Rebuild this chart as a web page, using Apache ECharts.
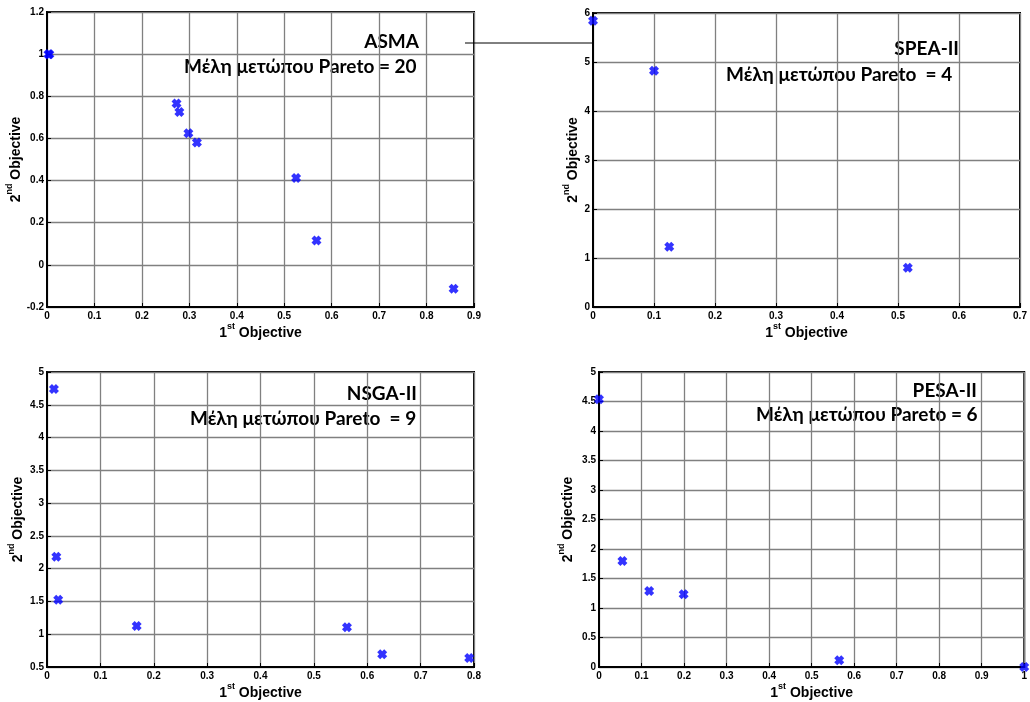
<!DOCTYPE html>
<html>
<head>
<meta charset="utf-8">
<script src="https://cdn.jsdelivr.net/npm/echarts@6/dist/echarts.min.js"></script>
<style>html,body{margin:0;padding:0;background:#fff;}#c{width:1030px;height:702px;}</style>
</head>
<body>
<div id="c"></div>
<script>
// ---- data ----
const asmaX = [0.003, 0.005, 0.273, 0.279, 0.298, 0.316, 0.525, 0.568, 0.857];
const asmaY = [1.0, 1.0, 0.766, 0.726, 0.624, 0.581, 0.412, 0.116, -0.113];
const speaX = [0.0, 0.1, 0.125, 0.516];
const speaY = [5.84, 4.82, 1.23, 0.80];
const nsgaX = [0.013, 0.0175, 0.021, 0.168, 0.562, 0.628, 0.791];
const nsgaY = [4.74, 2.18, 1.524, 1.126, 1.106, 0.693, 0.637];
const pesaX = [0.0, 0.055, 0.118, 0.199, 0.565, 1.0];
const pesaY = [4.54, 1.795, 1.29, 1.234, 0.113, 0.0];

const panelNames = ['ASMA', 'SPEA-II', 'NSGA-II', 'PESA-II'];
const paretoTexts = ['Μέλη μετώπου Pareto = 20', 'Μέλη μετώπου Pareto  = 4', 'Μέλη μετώπου Pareto  = 9', 'Μέλη μετώπου Pareto = 6'];
const xLabel = '{a|1}{s|st}{a| Objective}';
const yLabel = '{a|2}{s|nd}{a| Objective}';

const xRanges = [[0, 0.9, 0.1], [0, 0.7, 0.1], [0, 0.8, 0.1], [0, 1, 0.1]];
const yRanges = [[-0.2, 1.2, 0.2], [0, 6, 1], [0.5, 5, 0.5], [0, 5, 0.5]];

const grids = [
  {left: 47, top: 12, width: 427, height: 295},
  {left: 593, top: 13, width: 427, height: 294},
  {left: 47, top: 372, width: 427, height: 295},
  {left: 599, top: 372, width: 426, height: 295}
];
const yNameGaps = [22, 13, 22, 24];

const xs = [asmaX, speaX, nsgaX, pesaX];
const ys = [asmaY, speaY, nsgaY, pesaY];

const xMark = 'path://M0,3 L3,0 L5,2 L7,0 L10,3 L8,5 L10,7 L7,10 L5,8 L3,10 L0,7 L2,5 Z';
const labelFont = '"Liberation Sans", Arial, sans-serif';
const noteFont = 'bold 19px Lato, sans-serif';
const richName = {
  a: {fontSize: 14, fontWeight: 'bold', fontFamily: labelFont, color: '#000', lineHeight: 18, verticalAlign: 'bottom'},
  s: {fontSize: 9, fontWeight: 'bold', fontFamily: labelFont, color: '#000', lineHeight: 18, verticalAlign: 'top', padding: [0, 0, 7, 0]}
};

const option = {
  animation: false,
  backgroundColor: '#fff',
  grid: grids.map(g => Object.assign({show: true, borderColor: '#000', borderWidth: 2, backgroundColor: 'transparent', containLabel: false}, g)),
  xAxis: xRanges.map((r, i) => ({
    gridIndex: i, type: 'value', min: r[0], max: r[1], interval: r[2],
    name: xLabel, nameLocation: 'middle', nameGap: 15,
    nameTextStyle: {rich: richName},
    axisLine: {show: true, onZero: false, lineStyle: {color: '#000', width: 2}},
    axisTick: {show: true, inside: true, length: 4, lineStyle: {color: '#000'}},
    axisLabel: {color: '#000', fontWeight: 'bold', fontSize: 10, fontFamily: labelFont, margin: 4},
    splitLine: {show: true, lineStyle: {color: '#808080', width: 1.3}}
  })),
  yAxis: yRanges.map((r, i) => ({
    gridIndex: i, type: 'value', min: r[0], max: r[1], interval: r[2],
    name: yLabel, nameLocation: 'middle', nameGap: yNameGaps[i], nameRotate: 90,
    nameTextStyle: {rich: richName},
    axisLine: {show: true, onZero: false, lineStyle: {color: '#000', width: 2}},
    axisTick: {show: true, inside: true, length: 4, lineStyle: {color: '#000'}},
    axisLabel: {color: '#000', fontWeight: 'bold', fontSize: 10, fontFamily: labelFont, margin: 3},
    splitLine: {show: true, lineStyle: {color: '#808080', width: 1.3}}
  })),
  series: xs.map((xv, i) => ({
    type: 'scatter', xAxisIndex: i, yAxisIndex: i,
    symbol: xMark, symbolSize: 10,
    itemStyle: {color: '#0000ff'},
    data: xv.map((x, j) => [x, ys[i][j]]),
    z: 5
  })),
  graphic: [
    {type: 'line', shape: {x1: 465, y1: 43, x2: 593, y2: 43}, style: {stroke: '#000', lineWidth: 1}, z: 10},
    {type: 'text', right: 1030 - 419, top: 32, style: {text: panelNames[0], font: noteFont, fill: '#000'}},
    {type: 'text', left: 184, top: 57, style: {text: paretoTexts[0], font: noteFont, fill: '#000'}},
    {type: 'text', right: 1030 - 959, top: 39, style: {text: panelNames[1], font: noteFont, fill: '#000'}},
    {type: 'text', left: 726, top: 65, style: {text: paretoTexts[1], font: noteFont, fill: '#000'}},
    {type: 'text', right: 1030 - 417, top: 384, style: {text: panelNames[2], font: noteFont, fill: '#000'}},
    {type: 'text', left: 190, top: 409, style: {text: paretoTexts[2], font: noteFont, fill: '#000'}},
    {type: 'text', right: 1030 - 977, top: 381, style: {text: panelNames[3], font: noteFont, fill: '#000'}},
    {type: 'text', left: 756, top: 405, style: {text: paretoTexts[3], font: noteFont, fill: '#000'}}
  ]
};
echarts.init(document.getElementById('c'), null, {renderer: 'canvas'}).setOption(option);
</script>
</body>
</html>
